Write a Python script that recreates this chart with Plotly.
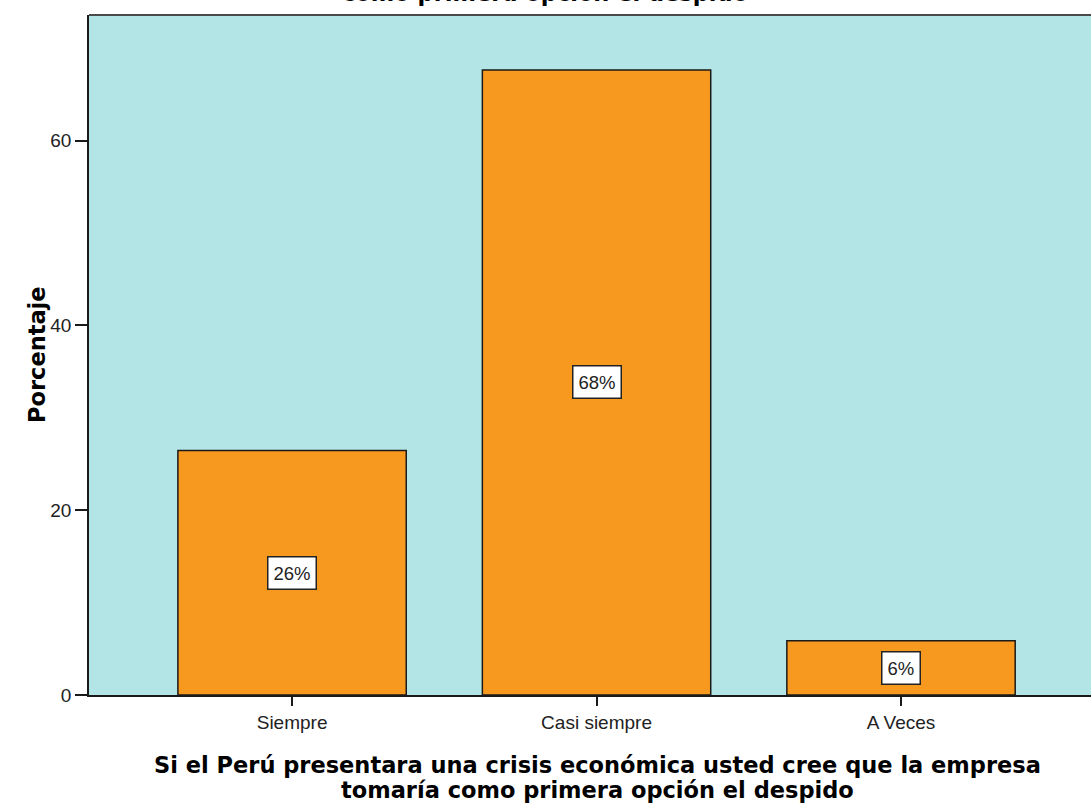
import plotly.graph_objects as go

# Responses to: crisis económica -> despido como primera opción (n = 34)
categorias = ["Siempre", "Casi siempre", "A Veces"]
porcentajes = [26.47, 67.65, 5.88]
ticks_y = [0, 20, 40, 60]

titulo_sup = "como primera opción el despido"
titulo_x = ["Si el Perú presentara una crisis económica usted cree que la empresa",
            "tomaría como primera opción el despido"]
titulo_y = "Porcentaje"

W, H = 1091, 803
ML, MR, MT, MB = 89, 0, 15, 108
FONT = "Liberation Sans, Arial, sans-serif"
FONT_B = "DejaVu Sans, Verdana, sans-serif"
TSIZE = 22.5

fig = go.Figure()
fig.add_trace(go.Bar(
    x=list(range(len(categorias))),
    y=porcentajes,
    width=0.75,
    marker=dict(color="#F7991F", line=dict(color="#1a1a1a", width=1.5)),
    hoverinfo="skip",
))

# value labels in white boxes at mid-height of each bar
for i, v in enumerate(porcentajes):
    fig.add_annotation(
        x=i, y=v / 2, xref="x", yref="y",
        text=f"{v:.0f}%", showarrow=False,
        font=dict(family=FONT, size=18.5, color="#222"),
        bgcolor="white", bordercolor="#222", borderwidth=1.5, borderpad=5,
    )

plot_h = H - MT - MB
plot_w = W - ML - MR
bottom = H - MB

# cut-off chart title at the top edge
fig.add_annotation(
    x=(545 - ML) / plot_w, y=1 + (MT + 7) / plot_h, xref="paper", yref="paper",
    text=f"<b>{titulo_sup}</b>", showarrow=False, yanchor="middle",
    font=dict(family=FONT_B, size=TSIZE, color="black"),
)
# x-axis title, two lines
for line, ypix in zip(titulo_x, [765, 790]):
    fig.add_annotation(
        x=(597 - ML) / plot_w, y=-(ypix - bottom) / plot_h, xref="paper", yref="paper",
        text=f"<b>{line}</b>", showarrow=False, yanchor="middle",
        font=dict(family=FONT_B, size=TSIZE, color="black"),
    )
# y-axis title
fig.add_annotation(
    x=(22 - ML) / plot_w, y=(bottom - 355) / plot_h, xref="paper", yref="paper",
    text=f"<b>{titulo_y}</b>", showarrow=False, textangle=-90,
    font=dict(family=FONT_B, size=TSIZE, color="black"),
)

# top frame line of the plot area
fig.add_shape(type="line", xref="paper", yref="paper", x0=0, x1=1, y0=1, y1=1,
              line=dict(color="#4a4a4a", width=2))

fig.update_layout(
    width=W, height=H,
    margin=dict(l=ML, r=MR, t=MT, b=MB),
    paper_bgcolor="white",
    plot_bgcolor="#B4E5E6",
    showlegend=False,
    bargap=0.25,
    font=dict(family=FONT, color="#222"),
)
fig.update_xaxes(
    range=[-0.667, 2.624],
    tickvals=list(range(len(categorias))), ticktext=categorias,
    tickfont=dict(size=19, color="#222"),
    showgrid=False, zeroline=False,
    showline=True, linecolor="#1a1a1a", linewidth=1.5,
    ticks="outside", ticklen=9, tickwidth=1.5, tickcolor="#1a1a1a",
)
fig.update_yaxes(
    range=[0, 73.6],
    tickvals=ticks_y,
    tickfont=dict(size=19, color="#222"),
    showgrid=False, zeroline=False,
    showline=True, linecolor="#1a1a1a", linewidth=1.5,
    ticks="outside", ticklen=12, tickwidth=1.5, tickcolor="#1a1a1a",
)

fig.write_html("out.html")
